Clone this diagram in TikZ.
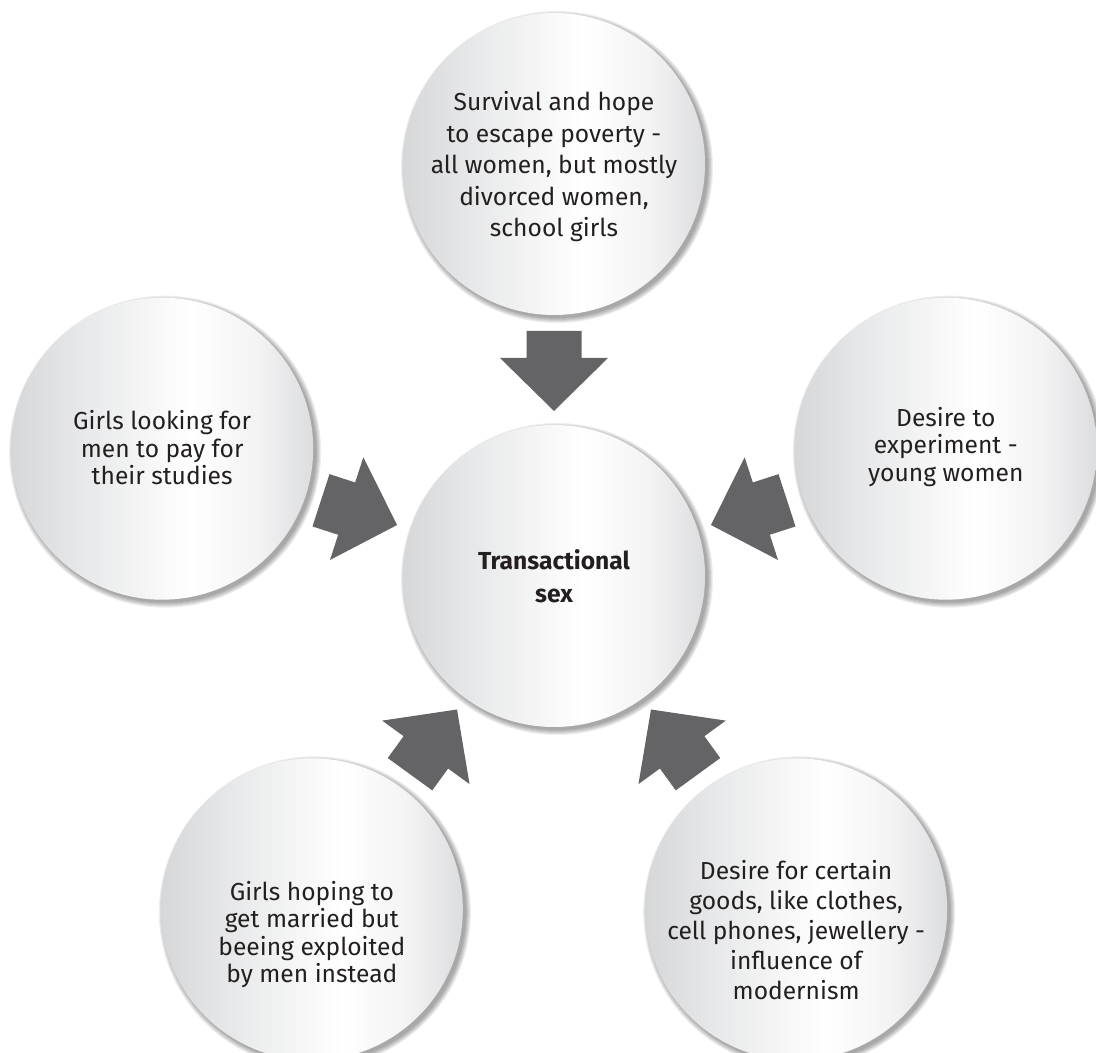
\documentclass[tikz,border=0pt]{standalone}
\usepackage{fontspec}
\setmainfont{Fira Sans}
\usetikzlibrary{calc}
\definecolor{arrowgray}{HTML}{646466}
\definecolor{txt}{HTML}{231F20}
\definecolor{gA}{HTML}{D6D7D9}
\definecolor{gB}{HTML}{E9EAEB}
\definecolor{gC}{HTML}{FFFFFF}
\definecolor{gD}{HTML}{F3F3F4}
\definecolor{gE}{HTML}{DCDDDF}
\pgfdeclarehorizontalshading{ballshade}{100bp}{color(0bp)=(gA); color(25bp)=(gA); color(38bp)=(gB); color(55bp)=(gC); color(66bp)=(gD); color(75bp)=(gE); color(100bp)=(gE)}
\tikzset{
  bubble/.style={circle, minimum size=302pt, inner sep=0pt, shading=ballshade},
  bubbletext/.style={align=center, text=txt, font=\fontsize{24.6}{29}\selectfont},
  blockarrow/.style={fill=arrowgray, draw=none},
}
\begin{document}
\begin{tikzpicture}[x=1pt,y=1pt]
\useasboundingbox (0,0) rectangle (1096,1053);
\clip (0,0) rectangle (1096,1053);
\coordinate (C) at (554,477);
% positions
\foreach \n/\a in {top/90, left/162, right/18, bl/234, br/306}{
  \coordinate (p\n) at ($(C)+(\a:412)$);
}
\coordinate (pcen) at (C);
% shadows
\foreach \n in {top,left,right,bl,br,cen}{
  \foreach \k in {1,...,6}{
    \fill[black, opacity=0.065] ($(p\n)+(3,-3)$) circle ({150+\k});
  }
}
% circles
\node[bubble] (top) at (ptop) {};
\node[bubble] (left) at (pleft) {};
\node[bubble] (right) at (pright) {};
\node[bubble] (bl) at (pbl) {};
\node[bubble] (br) at (pbr) {};
\node[bubble] (cen) at (pcen) {};
% texts
\node[bubbletext, font=\fontsize{24.6}{31.5}\selectfont] (ttop) at ($(top)+(0,-3)$) {Survival and hope\\to escape poverty -\\all women, but mostly\\divorced women,\\school girls};
\node[bubbletext, font=\fontsize{24.6}{27.5}\selectfont] (tleft) at ($(left)+(0,1)$) {Girls looking for\\men to pay for\\their studies};
\node[bubbletext, font=\fontsize{24.6}{27.5}\selectfont] (tright) at ($(right)+(0,2)$) {Desire to\\experiment -\\young women};
\node[bubbletext, font=\fontsize{24.6}{27.5}\selectfont] (tbl) at ($(bl)+(0,-25)$) {Girls hoping to\\get married but\\beeing exploited\\by men instead};
\node[bubbletext, font=\fontsize{24.6}{30}\selectfont] (tbr) at ($(br)+(0,-21)$) {Desire for certain\\goods, like clothes,\\cell phones, jewellery -\\influence of\\modernism};
\node[bubbletext, font=\bfseries\fontsize{24.6}{33}\selectfont] (tcen) at (cen) {Transactional\\sex};
% arrows
\foreach \a in {90,162,18,234,306}{
  \begin{scope}[shift={(C)}, rotate=\a-90]
    \fill[blockarrow] (-27.5,245) -- (27.5,245) -- (27.5,218) -- (54,218) -- (0,165) -- (-54,218) -- (-27.5,218) -- cycle;
  \end{scope}
}
\end{tikzpicture}
\end{document}
